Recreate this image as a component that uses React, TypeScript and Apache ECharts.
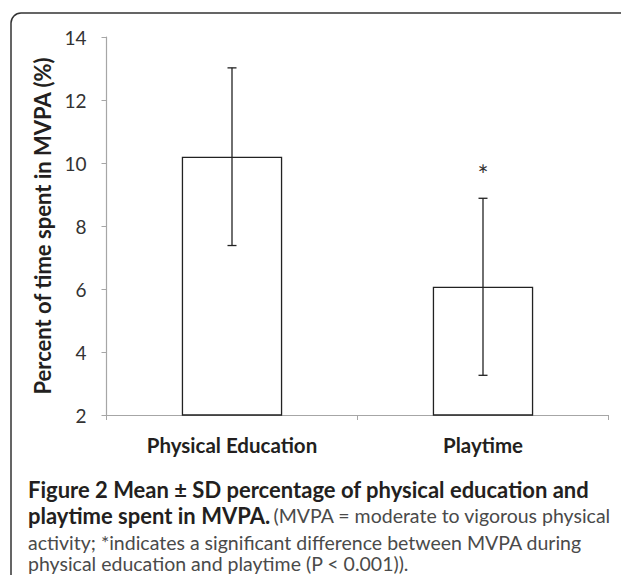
import React, { useEffect, useRef } from "react";
import * as echarts from "echarts";

const categories = ["Physical Education", "Playtime"];
const means = [10.2, 6.07];
const sds = [2.82, 2.81];
const significance = ["", "*"];
const yTicks = { min: 2, max: 14, interval: 2 };

const FONT = "Lato, 'Open Sans', sans-serif";

export default function App() {
  const ref = useRef<HTMLDivElement>(null);
  useEffect(() => {
    document.body.style.margin = "0";
    const chart = echarts.init(ref.current!, undefined, { renderer: "svg" });
    const errData = categories.map((_, i) => [i, means[i] - sds[i], means[i] + sds[i]]);
    const starData = categories.map((_, i) => [i, means[i] + sds[i] + 0.75, significance[i]]);
    chart.setOption({
      animation: false,
      textStyle: { fontFamily: FONT },
      grid: { left: 106.5, top: 37, right: 12.5, bottom: 160 },
      xAxis: {
        type: "category",
        data: categories,
        axisLine: { lineStyle: { color: "#a6a6a6", width: 1.2 } },
        axisTick: { show: true, length: 5, lineStyle: { color: "#a6a6a6" } },
        axisLabel: { color: "#231f20", fontWeight: "bold", fontSize: 20.5, margin: 19, fontFamily: FONT },
      },
      yAxis: {
        type: "value",
        min: yTicks.min,
        max: yTicks.max,
        interval: yTicks.interval,
        name: "Percent of time spent in MVPA (%)",
        nameLocation: "middle",
        nameGap: 47,
        nameTextStyle: { color: "#231f20", fontWeight: "bold", fontSize: 22, fontFamily: FONT },
        axisLine: { show: true, lineStyle: { color: "#a6a6a6", width: 1.2 } },
        axisTick: { show: true, length: 5, lineStyle: { color: "#a6a6a6" } },
        splitLine: { show: false },
        axisLabel: { color: "#333", fontSize: 19, margin: 20, fontFamily: FONT },
      },
      series: [
        {
          type: "bar",
          data: means,
          barWidth: "40%",
          itemStyle: { color: "#ffffff", borderColor: "#222", borderWidth: 1.3 },
        },
        {
          type: "custom",
          data: errData,
          renderItem: (params: any, api: any) => {
            const x = api.value(0);
            const lo = api.coord([x, api.value(1)]);
            const hi = api.coord([x, api.value(2)]);
            const half = 4.5;
            const st = { stroke: "#222", lineWidth: 1.3 };
            return {
              type: "group",
              children: [
                { type: "line", shape: { x1: lo[0], y1: lo[1], x2: hi[0], y2: hi[1] }, style: st },
                { type: "line", shape: { x1: lo[0] - half, y1: lo[1], x2: lo[0] + half, y2: lo[1] }, style: st },
                { type: "line", shape: { x1: hi[0] - half, y1: hi[1], x2: hi[0] + half, y2: hi[1] }, style: st },
              ],
            };
          },
          z: 5,
        },
        {
          type: "custom",
          data: starData,
          renderItem: (params: any, api: any) => {
            const p = api.coord([api.value(0), api.value(1)]);
            return {
              type: "text",
              x: p[0],
              y: p[1],
              style: {
                text: String(starData[params.dataIndex][2]),
                fill: "#333",
                fontSize: 26,
                fontFamily: FONT,
                align: "center",
                verticalAlign: "middle",
              },
            };
          },
        },
      ],
      graphic: [
        {
          type: "rect",
          shape: { x: 11, y: 13, width: 700, height: 700, r: [10, 0, 0, 0] },
          style: { fill: "none", stroke: "#333", lineWidth: 1.5 },
          silent: true,
        },
        {
          type: "text",
          left: 28,
          top: 477,
          style: {
            text: "Figure 2 Mean ± SD percentage of physical education and",
            fontFamily: FONT,
            fontSize: 22,
            lineHeight: 24,
            fontWeight: "bold",
            fill: "#231f20",
          },
        },
        {
          type: "text",
          left: 28,
          top: 504,
          style: {
            text: "{b|playtime spent in MVPA.} {n|(MVPA = moderate to vigorous physical}",
            rich: {
              b: { fontFamily: FONT, fontSize: 22, lineHeight: 24, fontWeight: "bold", fill: "#231f20" },
              n: { fontFamily: FONT, fontSize: 19.5, lineHeight: 24, fill: "#4a4a4a" },
            },
          },
        },
        {
          type: "text",
          left: 28,
          top: 531,
          style: {
            text: "activity; *indicates a significant difference between MVPA during",
            fontFamily: FONT,
            fontSize: 19.5,
            lineHeight: 22,
            fill: "#4a4a4a",
          },
        },
        {
          type: "text",
          left: 28,
          top: 553,
          style: {
            text: "physical education and playtime (P < 0.001)).",
            fontFamily: FONT,
            fontSize: 19.5,
            lineHeight: 21,
            fill: "#4a4a4a",
          },
        },
      ],
    });
    return () => chart.dispose();
  }, []);
  return <div ref={ref} style={{ width: 621, height: 575 }} />;
}
